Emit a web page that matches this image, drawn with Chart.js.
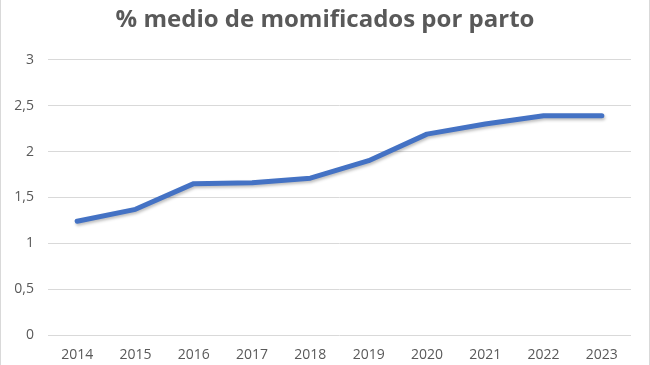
<!DOCTYPE html>
<html>
<head>
<meta charset="utf-8">
<script src="https://cdn.jsdelivr.net/npm/chart.js@4/dist/chart.umd.min.js"></script>
<style>
  html, body { margin: 0; padding: 0; background: #fff; }
  .wrap { position: relative; width: 648px; height: 365px; border-left: 1px solid #d9d9d9; border-right: 1px solid #d9d9d9; }
</style>
</head>
<body>
<div class="wrap"><canvas id="momChart"></canvas></div>
<script>
// Datos del gráfico
const years = ["2014", "2015", "2016", "2017", "2018", "2019", "2020", "2021", "2022", "2023"];
const momificados = [1.24, 1.37, 1.65, 1.66, 1.71, 1.90, 2.19, 2.30, 2.39, 2.39];
const yTicks = [0, 0.5, 1, 1.5, 2, 2.5, 3];

const textColor = "#595959";

// Sombra suave bajo la línea
const lineShadow = {
  id: "lineShadow",
  beforeDatasetDraw(chart) {
    const ctx = chart.ctx;
    ctx.save();
    ctx.shadowColor = "rgba(0,0,0,0.25)";
    ctx.shadowBlur = 3;
    ctx.shadowOffsetX = 1;
    ctx.shadowOffsetY = 2;
  },
  afterDatasetDraw(chart) {
    chart.ctx.restore();
  }
};

const ctx = document.getElementById("momChart").getContext("2d");
const momChart = new Chart(ctx, {
  type: "line",
  data: {
    labels: years,
    datasets: [
      {
        label: "% medio de momificados por parto",
        data: momificados,
        borderColor: "#4472C4",
        borderWidth: 5,
        borderCapStyle: "round",
        borderJoinStyle: "round",
        pointRadius: 0,
        tension: 0,
        fill: false,
      },
    ],
  },
  options: {
    responsive: true,
    maintainAspectRatio: false,
    animation: false,
    layout: {
      padding: 0,
    },
    scales: {
      x: {
        offset: true,
        grid: { display: false },
        border: { display: false },
        afterFit: function (scale) {
          scale.height = 30;
        },
        ticks: {
          color: textColor,
          font: { family: "Open Sans", size: 14 },
          padding: 4,
          maxRotation: 0,
        },
      },
      y: {
        min: 0,
        max: 3,
        afterBuildTicks: function (scale) {
          scale.ticks = yTicks.map(function (v) { return { value: v }; });
        },
        afterFit: function (scale) {
          scale.width = 47;
        },
        grid: { color: "#d9d9d9", drawTicks: false },
        border: { display: false },
        ticks: {
          color: textColor,
          font: { family: "Open Sans", size: 14 },
          padding: 14,
          callback: function (value) {
            return String(value).replace(".", ",");
          },
        },
      },
      // eje vacío a la derecha, solo para reservar margen
      yRight: {
        position: "right",
        display: true,
        grid: { display: false },
        border: { display: false },
        ticks: { display: false },
        afterFit: function (scale) {
          scale.width = 18;
        },
      },
    },
    plugins: {
      legend: { display: false },
      tooltip: { enabled: false },
      title: {
        display: true,
        text: "% medio de momificados por parto",
        color: textColor,
        font: { family: "Open Sans", size: 24, weight: "bold" },
        padding: { top: 6, bottom: 25 },
      },
    },
  },
  plugins: [lineShadow],
});
</script>
</body>
</html>
